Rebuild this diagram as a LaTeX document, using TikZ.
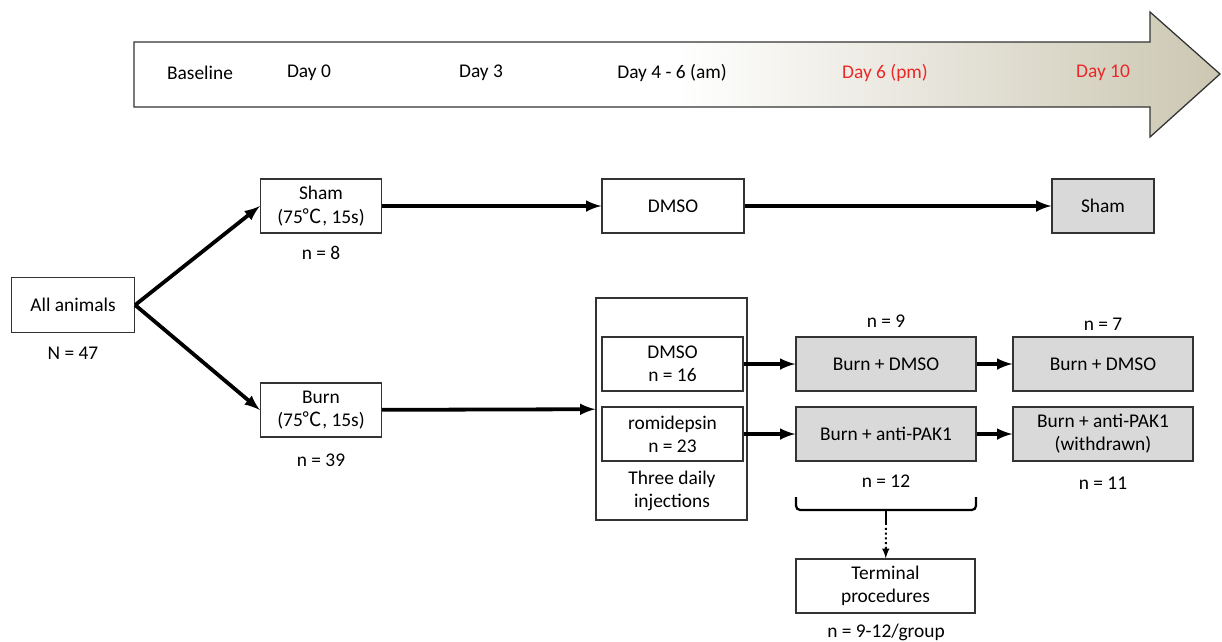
\documentclass[tikz,border=0pt]{standalone}
\usepackage{fontspec}
\setmainfont{Carlito}
\newfontfamily\cjk{Noto Sans CJK SC}
\usetikzlibrary{arrows}
\definecolor{timetan}{RGB}{203,199,178}
\definecolor{boxgray}{RGB}{217,217,217}
\definecolor{dayred}{RGB}{235,40,40}

\begin{document}
\begin{tikzpicture}[>=latex,x=0.025cm,y=-0.025cm,font=\fontsize{13.8}{16.5}\selectfont,
  box/.style={draw=black!80,line width=0.9pt,align=center,inner sep=0pt,minimum height=1.35cm},
  grey/.style={box,fill=boxgray},
  flow/.style={->,line width=2.7pt}]
\useasboundingbox (0,0) rectangle (1222,641);
\def\tempc{{\cjk ℃}}
% time line
\shade[draw=black!80,line width=0.9pt,left color=white,right color=timetan,middle color=white]
  (134,42) -- (1150,42) -- (1150,12) -- (1220,74) -- (1150,137) -- (1150,107) -- (134,107) -- cycle;
\node (base) at (200,73) {Baseline};
\node (d0) at (309,73) {Day 0};
\node (d3) at (481,73) {Day 3};
\node (d46) at (672,73) {Day 4 - 6 (am)};
\node[text=dayred] (d6) at (885,73) {Day 6 (pm)};
\node[text=dayred] (d10) at (1103,73) {Day 10};
% groups
\node[box,minimum width=3.075cm,minimum height=1.375cm] (all) at (73,305) {All animals};
\node (nall) at (73,353) {N = 47};
\node[box,minimum width=3.025cm] (sham) at (321,206) {Sham\\(75\tempc, 15s)};
\node (nsham) at (321,253) {n = 8};
\node[box,minimum width=3.025cm] (burn) at (321,410) {Burn\\(75\tempc, 15s)};
\node (nburn) at (321,460) {n = 39};
\node[box,minimum width=3.55cm] (dmso) at (673,206) {DMSO};
\node[grey,minimum width=2.55cm] (shamend) at (1103,206) {Sham};
% injections
\node[box,minimum width=3.775cm,minimum height=5.55cm] (inj) at (671.5,409) {};
\node[box,minimum width=3.525cm] (dmsoinj) at (672.5,364) {DMSO\\n = 16};
\node[box,minimum width=3.525cm] (romi) at (672.5,434) {romidepsin\\n = 23};
\node[align=center] (three) at (672,491) {Three daily\\injections};
\node[grey,minimum width=4.5cm] (bdmso) at (886,364) {Burn + DMSO};
\node (nbdmso) at (886,321) {n = 9};
\node[grey,minimum width=4.5cm] (bpak) at (886,434) {Burn + anti-PAK1};
\node (nbpak) at (886,481) {n = 12};
\node[grey,minimum width=4.5cm] (bdmsoend) at (1103,364) {Burn + DMSO};
\node (nbdmsoend) at (1103,324) {n = 7};
\node[grey,minimum width=4.5cm] (bpakend) at (1103,434) {Burn + anti-PAK1\\(withdrawn)};
\node (nbpakend) at (1103,483) {n = 11};
\node[box,minimum width=4.475cm] (term) at (885.5,586) {Terminal\\procedures};
\node (nterm) at (886,632) {n = 9-12/group};
% connectors
\draw[flow] (all.east) -- (sham.west);
\draw[flow] (all.east) -- (burn.west);
\draw[flow] (sham) -- (dmso);
\draw[flow] (dmso) -- (shamend);
\draw[flow] (burn) -- (inj);
\draw[flow] (dmsoinj) -- (bdmso);
\draw[flow] (bdmso) -- (bdmsoend);
\draw[flow] (romi) -- (bpak);
\draw[flow] (bpak) -- (bpakend);
% bracket under the treated groups
\draw[line width=1.6pt,rounded corners=3pt] (796,497) -- (796,510) -- (976,510) -- (976,497);
\coordinate (tip) at (886,523);
\draw[line width=1.6pt] (886,510) -- (tip);
\draw[->,dotted,line width=1.4pt] (tip) -- (term);
\end{tikzpicture}
\end{document}
